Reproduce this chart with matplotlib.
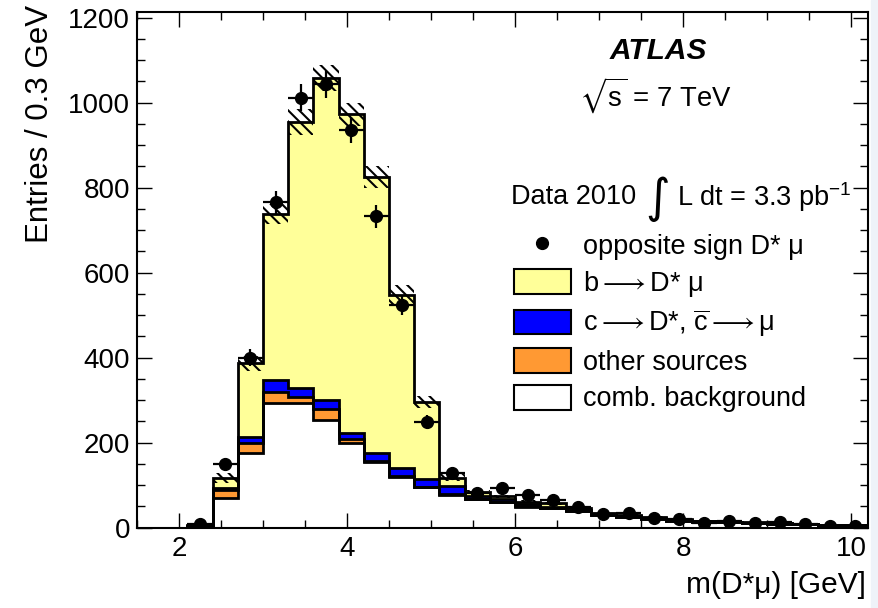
import numpy as np
import matplotlib
matplotlib.use('Agg')
from matplotlib import pyplot as plt
from matplotlib.patches import Patch, Rectangle
from matplotlib.lines import Line2D
from matplotlib.ticker import MultipleLocator

plt.rcParams['font.family'] = ['Liberation Sans', 'DejaVu Sans']
plt.rcParams['mathtext.fontset'] = 'custom'
plt.rcParams['mathtext.rm'] = 'Liberation Sans'
plt.rcParams['mathtext.it'] = 'Liberation Sans:italic'
plt.rcParams['mathtext.fallback'] = 'stixsans'
plt.rcParams['hatch.linewidth'] = 1.5

# binning: 0.3 GeV bins from 1.5 to 10.2 GeV
bin_lo, bin_hi, bin_w = 1.5, 10.2, 0.3
edges = np.round(np.arange(bin_lo, bin_hi + 0.01, bin_w), 2)
centers = 0.5 * (edges[:-1] + edges[1:])

# MC components (entries per bin)
comb_bkg = [0, 0, 3, 69, 175, 294, 292, 253, 200, 155, 120, 95, 77, 66, 59,
            49, 45, 38, 29, 25, 21, 16, 14, 12, 10, 9, 8, 6, 5]
other_src = [0, 0, 1, 19, 23, 24, 16, 25, 8, 2, 1, 1, 1, 1, 1,
             1, 0, 0, 0, 0, 0, 0, 0, 0, 0, 0, 0, 0, 0]
charm = [0, 0, 0.5, 4, 16, 29, 20, 21, 14, 18, 18, 18, 19, 6, 7,
         5, 4, 3, 2, 2, 2, 1, 1, 1, 1, 0.5, 0.5, 0.5, 0.5]
b_decay = [0, 0, 0.5, 24, 172, 390, 626, 759, 750, 650, 409, 182, 20, 11, 6,
           6, 8, 4, 2, 2, 2, 2, 1, 1, 1, 0.5, 0.5, 0.5, 0.5]
# MC uncertainty (half width of hatched band)
mc_err = [0, 0, 1, 12, 18, 24, 31, 30, 28, 25, 22, 14, 8, 5, 4,
          4, 3, 3, 2, 2, 2, 2, 1, 1, 1, 1, 1, 1, 1]

# opposite sign D* mu data, bins 2.1 GeV and up
data_y = np.array([8, 150, 400, 765, 1011, 1043, 936, 732, 524, 249,
                   128, 81, 94, 77, 65, 49, 31, 35, 22, 19,
                   10, 16, 11, 12, 8, 4, 4])
data_x = centers[2:]

# cumulative stack levels
lvl_comb = np.array(comb_bkg, dtype=float)
lvl_other = lvl_comb + np.array(other_src)
lvl_charm = lvl_other + np.array(charm)
lvl_total = lvl_charm + np.array(b_decay)

c_b = '#ffff99'
c_c = '#0000ff'
c_o = '#ff9933'

fig = plt.figure(figsize=(8.79, 6.08), dpi=100)
ax = fig.add_axes([137/879, 1 - 527.5/608, 731/879, 515.5/608])

stack = [(lvl_total, c_b), (lvl_charm, c_c), (lvl_other, c_o), (lvl_comb, 'white')]
for top, col in stack:
    ax.stairs(top, edges, fill=True, color=col, lw=0, zorder=1)
for top, col in stack:
    ax.stairs(top, edges, color='black', lw=2.0, zorder=2)

# MC uncertainty band
ax.bar(centers, 2*np.array(mc_err), bottom=lvl_total - np.array(mc_err), width=bin_w,
       fill=False, hatch='\\\\\\', lw=0, edgecolor='black', zorder=3)

ax.errorbar(data_x, data_y, xerr=bin_w/2, yerr=np.sqrt(data_y), fmt='o', color='black',
            ms=8.5, elinewidth=1.6, capsize=0, zorder=4)

ax.set_xlim(bin_lo, bin_hi)
ax.set_ylim(0, 1213)
ax.xaxis.set_major_locator(MultipleLocator(2))
ax.xaxis.set_minor_locator(MultipleLocator(0.5))
ax.yaxis.set_major_locator(MultipleLocator(200))
ax.yaxis.set_minor_locator(MultipleLocator(50))
ax.tick_params(which='both', direction='in', top=True, right=True, labelsize=20)
ax.tick_params(which='major', length=10.8, width=1.0)
ax.tick_params(which='minor', length=5.5, width=1.0)
ax.tick_params(axis='x', pad=6)
ax.tick_params(axis='y', pad=5)
for s in ax.spines.values():
    s.set_linewidth(1.5)

ax.set_ylabel('Entries / 0.3 GeV', fontsize=22.5, loc='top')
ax.yaxis.set_label_coords(-0.112, 1.013)
ax.set_xlabel(r'm(D*μ) [GeV]', fontsize=21.5, loc='right')
ax.xaxis.set_label_coords(0.997, -0.085)

fig.text(610/879, 1 - 51/608, 'ATLAS', fontsize=21.5, fontweight='bold',
         fontstyle='italic', va='center')
fig.text(579/879, 1 - 96/608, r'$\sqrt{\mathrm{s}}$ = 7 TeV', fontsize=19.8, va='center')
fig.text(511/879, 1 - 197.5/608, 'Data 2010', fontsize=19.5, va='center')
fig.text(658/879, 1 - 199/608, '∫', fontsize=34, ha='center', va='center',
         family='DejaVu Sans')
fig.text(677/879, 1 - 197.5/608, r'L dt = 3.3 pb$^{\mathrm{-1}}$', fontsize=19.5, va='center')

handles = [Line2D([], [], marker='o', ls='none', color='black', ms=8.5),
           Patch(facecolor=c_b, edgecolor='black', lw=1.5),
           Patch(facecolor=c_c, edgecolor='black', lw=1.5),
           Patch(facecolor=c_o, edgecolor='black', lw=1.5),
           Patch(facecolor='white', edgecolor='black', lw=1.5)]
labels = ['opposite sign D* μ', r'b$\longrightarrow$D* μ',
          r'c$\longrightarrow$D*, $\overline{\mathrm{c}}\longrightarrow$μ',
          'other sources', 'comb. background']
ax.legend(handles, labels, loc='upper left', bbox_to_anchor=(514/879, 1 - 232/608),
          bbox_transform=fig.transFigure, frameon=False, fontsize=19.5, borderpad=0,
          borderaxespad=0, handlelength=2.1, handleheight=1.03, handletextpad=0.45,
          labelspacing=0.33)

fig.patches.append(Rectangle((871/879, 0), 8/879, 1, transform=fig.transFigure,
                             color='#eef2f8', zorder=-1))

plt.savefig('out.png', dpi=100)
